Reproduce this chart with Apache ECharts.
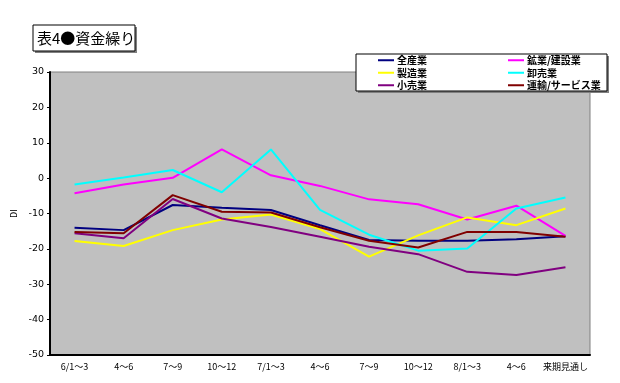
<!DOCTYPE html>
<html><head><meta charset="utf-8">
<script src="https://cdn.jsdelivr.net/npm/echarts@6/dist/echarts.min.js"></script>
<style>html,body{margin:0;padding:0;background:#fff}#c{width:620px;height:383px}</style>
</head><body><div id="c"></div>
<script>
const categories = ["6/1～3","4～6","7～9","10～12","7/1～3","4～6","7～9","10～12","8/1～3","4～6","来期見通し"];
const allIndustry = [-14.0,-14.7,-7.6,-8.4,-9.0,-13.3,-17.5,-17.7,-17.7,-17.3,-16.4];
const miningConstruction = [-4.3,-1.8,0.1,8.1,0.8,-2.2,-6.0,-7.4,-11.7,-7.8,-16.3];
const manufacturing = [-17.8,-19.2,-14.7,-11.7,-10.3,-14.4,-22.2,-16.2,-11.1,-13.3,-8.6];
const wholesale = [-1.8,0.2,2.3,-4.0,8.1,-9.0,-16.0,-20.5,-19.9,-8.6,-5.5];
const retail = [-15.6,-17.0,-5.9,-11.4,-13.8,-16.6,-19.4,-21.5,-26.5,-27.4,-25.2];
const transportService = [-15.2,-15.6,-4.8,-9.5,-9.7,-13.9,-17.7,-19.6,-15.2,-15.2,-16.6];
const seriesNames = ["全産業","鉱業/建設業","製造業","卸売業","小売業","運輸/サービス業"];
const seriesColors = ["#000080","#FF00FF","#FFFF00","#00FFFF","#800080","#800000"];
const seriesData = [allIndustry,miningConstruction,manufacturing,wholesale,retail,transportService];
const titleText = "表4●資金繰り";
const yName = "DI";

const FONT = '"Noto Sans CJK JP","DejaVu Sans",sans-serif';
const chart = echarts.init(document.getElementById('c'), null, {renderer:'canvas'});
const legendCommon = {
  orient:'vertical', itemWidth:16, itemHeight:2, itemGap:0, icon:'rect', padding:0,
  textStyle:{fontFamily:FONT, fontSize:10, fontWeight:'bold', color:'#000', lineHeight:12.5, padding:[0,0,0,-2]}
};
chart.setOption({
  animation:false,
  backgroundColor:'#fff',
  graphic:[
    {type:'rect', shape:{x:35,y:27,width:102,height:26}, style:{fill:'#808080'}, z:1},
    {type:'rect', shape:{x:33,y:25,width:102,height:26}, style:{fill:'#fff', stroke:'#000', lineWidth:1}, z:2},
    {type:'text', x:37, y:38, style:{text:titleText, fontFamily:FONT, fontSize:15, fill:'#000', verticalAlign:'middle'}, z:3},
    {type:'rect', shape:{x:358,y:56,width:251,height:37}, style:{fill:'#808080'}, z:1},
    {type:'rect', shape:{x:356,y:54,width:251,height:37}, style:{fill:'#fff', stroke:'#000', lineWidth:1}, z:2}
  ],
  legend:[
    Object.assign({left:378, top:54, data:[seriesNames[0],seriesNames[2],seriesNames[4]]}, legendCommon),
    Object.assign({left:508, top:54, data:[seriesNames[1],seriesNames[3],seriesNames[5]]}, legendCommon)
  ],
  grid:{left:50, right:30, top:72, bottom:28, show:true, backgroundColor:'#C0C0C0', borderColor:'#808080', borderWidth:1},
  xAxis:{
    type:'category', data:categories, boundaryGap:true,
    axisLine:{onZero:false, lineStyle:{color:'#000', width:2}},
    axisTick:{inside:true, length:3, lineStyle:{color:'#000'}},
    axisLabel:{color:'#000', fontFamily:FONT, fontSize:9, margin:7, interval:0}
  },
  yAxis:{
    type:'value', min:-50, max:30, interval:10,
    name:yName, nameLocation:'middle', nameGap:32, nameRotate:90,
    nameTextStyle:{color:'#000', fontFamily:FONT, fontSize:9},
    axisLine:{show:true, lineStyle:{color:'#000', width:2}},
    axisTick:{show:true, length:3, lineStyle:{color:'#000'}},
    splitLine:{show:false},
    axisLabel:{color:'#000', fontFamily:'"DejaVu Sans",sans-serif', fontSize:9.5, margin:6}
  },
  series: seriesData.map((d,i)=>({
    name:seriesNames[i], type:'line', data:d, showSymbol:false, symbol:'none',
    lineStyle:{width:2, color:seriesColors[i]}, itemStyle:{color:seriesColors[i]}
  }))
});
</script></body></html>
